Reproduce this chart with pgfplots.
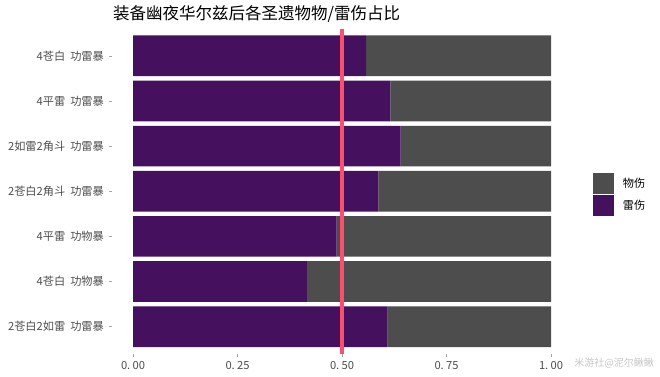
\documentclass[border=0pt]{standalone}
\usepackage{fontspec}
\setmainfont{Noto Sans CJK SC}
\usepackage{pgfplots}
\pgfplotsset{compat=1.18}
\definecolor{thunder}{HTML}{45105D}
\definecolor{phys}{HTML}{4D4D4D}
\definecolor{redline}{HTML}{FB4F6E}
\definecolor{txtgray}{HTML}{4D4D4D}
\newcommand{\gp}{\ \hspace{2.5bp}}
\newcommand{\dt}{.\hspace{2.2bp}}
\begin{document}
\begin{tikzpicture}
\path[use as bounding box] (0,0) rectangle (660bp,377bp);
\begin{axis}[
  at={(112.1bp,23.2bp)}, anchor=south west,
  scale only axis, width=459.8bp, height=325.1bp,
  xmin=-0.05, xmax=1.05, ymin=0.4, ymax=7.6,
  xbar stacked, bar width=0.9,
  axis line style={draw=none},
  tick align=outside, major tick length=3.2bp,
  tick style={color=gray!70, line width=0.5bp},
  xtick pos=bottom, ytick pos=left,
  xtick={0,0.25,0.5,0.75,1},
  xticklabels={0\dt00,0\dt25,0\dt50,0\dt75,1\dt00},
  ytick={1,2,3,4,5,6,7},
  yticklabels={2苍白2如雷\gp 功雷暴,4苍白\gp 功物暴,4平雷\gp 功物暴,2苍白2角斗\gp 功雷暴,2如雷2角斗\gp 功雷暴,4平雷\gp 功雷暴,4苍白\gp 功雷暴},
  ticklabel style={font=\fontsize{11.2bp}{12bp}\selectfont, text=txtgray},
  yticklabel style={xshift=-1.5bp},
  xticklabel style={yshift=-1bp},
  legend style={at={(1.0465,0.556)}, anchor=north west, draw=none, fill=none,
    inner sep=0pt, row sep=0.8bp, font=\fontsize{11.2bp}{12bp}\selectfont,
    nodes={inner sep=0pt}},
  legend cell align=left,
  /tikz/every odd column/.append style={column sep=8.4bp},
  legend image code/.code={\fill[#1] (0bp,-10.5bp) rectangle (21bp,10.5bp);},
  reverse legend,
]
\addplot[fill=thunder, draw=none] coordinates {
 (0.558,7) (0.616,6) (0.640,5) (0.587,4) (0.487,3) (0.416,2) (0.609,1)};
\addlegendentry{雷伤}
\addplot[fill=phys, draw=none] coordinates {
 (0.442,7) (0.384,6) (0.360,5) (0.413,4) (0.513,3) (0.584,2) (0.391,1)};
\addlegendentry{物伤}
\end{axis}
\begin{axis}[
  at={(112.1bp,23.2bp)}, anchor=south west,
  scale only axis, width=459.8bp, height=325.1bp,
  xmin=-0.05, xmax=1.05, ymin=0.4, ymax=7.6,
  axis lines=none, clip=false,
]
\addplot[color=redline, line width=4bp] coordinates {(0.5,0.4) (0.5,7.6)};
\end{axis}
\node[anchor=base west, inner sep=0pt, font=\fontsize{16.5bp}{18bp}\selectfont] at (113bp,357.5bp) {装备幽夜华尔兹后各圣遗物物/雷伤占比};
\node[anchor=east, inner sep=0pt, text=gray!45, font=\fontsize{10bp}{11bp}\selectfont] at (654bp,14bp) {米游社@泥尔鳅鳅};
\end{tikzpicture}
\end{document}
